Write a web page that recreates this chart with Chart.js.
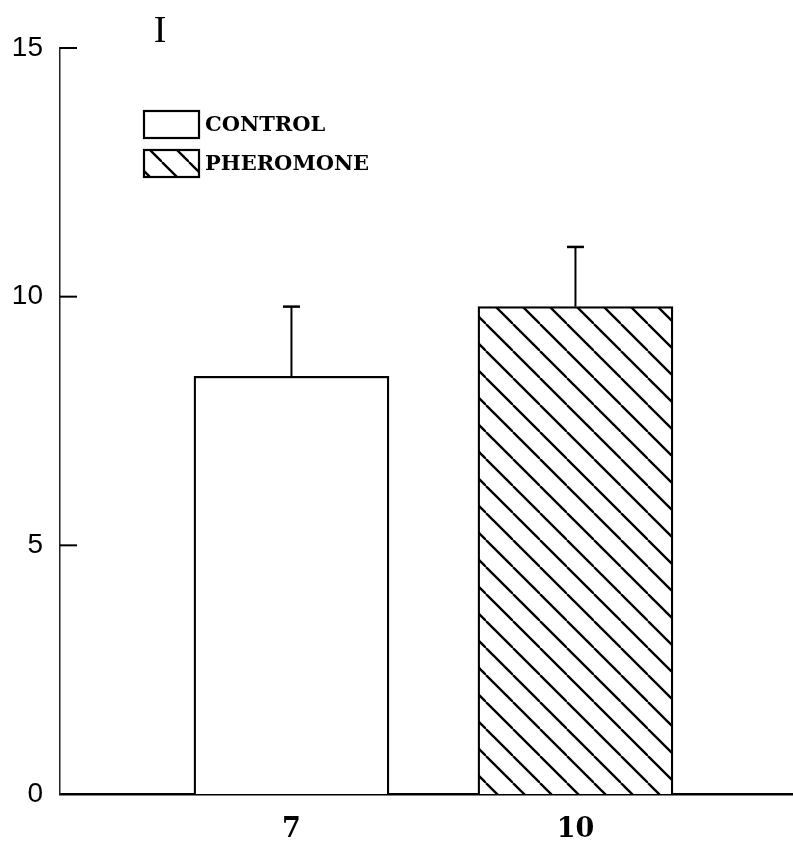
<!DOCTYPE html>
<html>
<head>
<meta charset="utf-8">
<script src="https://cdn.jsdelivr.net/npm/chart.js@4/dist/chart.umd.min.js"></script>
<style>
  html, body { margin: 0; padding: 0; background: #fff; }
  #chart { display: block; }
</style>
</head>
<body>
<canvas id="chart" width="793" height="841"></canvas>
<script>
// ==========================================
// DATA
// ==========================================
const groups = ['CONTROL', 'PHEROMONE'];   // legend entries
const nLabels = ['7', '10'];                // labels under the bars
const means = [8.4, 9.8];
const sem = [1.4, 1.2];
const yTicks = [0, 5, 10, 15];
const panelLabel = 'I';

// ==========================================
// HATCH PATTERN ( \\\ )
// ==========================================
function makeHatch() {
    const s = 27;
    const c = document.createElement('canvas');
    c.width = s; c.height = s;
    const g = c.getContext('2d');
    g.fillStyle = '#fff';
    g.fillRect(0, 0, s, s);
    g.strokeStyle = '#000';
    g.lineWidth = 2.3;
    [-s, 0, s].forEach(x0 => {
        g.beginPath();
        g.moveTo(x0, 0);
        g.lineTo(x0 + s, s);
        g.stroke();
    });
    return g.createPattern(c, 'repeat');
}

const hatch = makeHatch();
const fills = ['#ffffff', hatch];

function line(ctx, x1, y1, x2, y2) {
    ctx.beginPath();
    ctx.moveTo(x1, y1);
    ctx.lineTo(x2, y2);
    ctx.stroke();
}

// error bars, inner ticks, legend and panel label
const overlay = {
    id: 'overlay',
    afterDatasetsDraw(chart) {
        const { ctx, chartArea } = chart;
        const x = chart.scales.x;
        const y = chart.scales.y;
        ctx.save();
        ctx.strokeStyle = '#000';
        ctx.lineCap = 'butt';

        // error bars
        means.forEach((m, i) => {
            const cx = x.getPixelForValue(i);
            const base = y.getPixelForValue(m);
            const top = y.getPixelForValue(m + sem[i]);
            ctx.lineWidth = 2;
            line(ctx, cx, base, cx, top);
            ctx.lineWidth = 2.5;
            line(ctx, cx - 8.5, top, cx + 8.5, top);
        });

        // ticks pointing into the plot
        ctx.lineWidth = 2;
        y.ticks.forEach(t => {
            if (t.value === 0) return;
            const py = y.getPixelForValue(t.value);
            line(ctx, chartArea.left, py, chartArea.left + 17, py);
        });

        // legend
        const lx = 144, ly = 111, bw = 55, bh = 27, gap = 39;
        ctx.font = 'bold 21px "DejaVu Serif"';
        ctx.textBaseline = 'middle';
        ctx.textAlign = 'left';
        groups.forEach((name, i) => {
            const by = ly + i * gap;
            ctx.fillStyle = fills[i];
            ctx.fillRect(lx, by, bw, bh);
            ctx.lineWidth = 2.2;
            ctx.strokeRect(lx, by, bw, bh);
            ctx.fillStyle = '#000';
            ctx.fillText(name, lx + bw + 6, by + bh / 2 + 1);
        });

        // panel label
        ctx.font = '38px "Liberation Serif"';
        ctx.textAlign = 'center';
        ctx.textBaseline = 'alphabetic';
        ctx.fillText(panelLabel, 160, 42);

        ctx.restore();
    }
};

new Chart(document.getElementById('chart'), {
    type: 'bar',
    data: {
        datasets: [{
            data: means.map((m, i) => ({ x: i, y: m })),
            backgroundColor: fills,
            borderColor: '#000',
            borderWidth: 2.3,
            borderSkipped: 'bottom',
            barThickness: 195
        }]
    },
    options: {
        responsive: false,
        animation: false,
        layout: { padding: { top: 48, right: 0, left: 0, bottom: 0 } },
        plugins: {
            legend: { display: false },
            tooltip: { enabled: false },
            title: { display: false }
        },
        scales: {
            x: {
                type: 'linear',
                min: -0.815,
                max: 1.766,
                offset: false,
                grid: { display: false, drawTicks: false, offset: false },
                border: { display: true, color: '#000', width: 2.5 },
                afterBuildTicks: scale => {
                    scale.ticks = nLabels.map((_, i) => ({ value: i }));
                },
                afterFit: scale => { scale.height = 47; },
                ticks: {
                    autoSkip: false,
                    maxRotation: 0,
                    padding: 20,
                    color: '#000',
                    font: { family: '"DejaVu Serif"', size: 27, weight: 'bold' },
                    callback: v => nLabels[v] !== undefined ? nLabels[v] : ''
                }
            },
            y: {
                min: 0,
                max: 15,
                grid: { display: false, drawTicks: false },
                border: { display: true, color: '#222', width: 1.5 },
                afterBuildTicks: scale => {
                    scale.ticks = yTicks.map(v => ({ value: v }));
                },
                afterFit: scale => { scale.width = 60; },
                ticks: {
                    padding: 17,
                    color: '#000',
                    font: { family: '"Liberation Sans"', size: 28 }
                }
            }
        }
    },
    plugins: [overlay]
});
</script>
</body>
</html>
